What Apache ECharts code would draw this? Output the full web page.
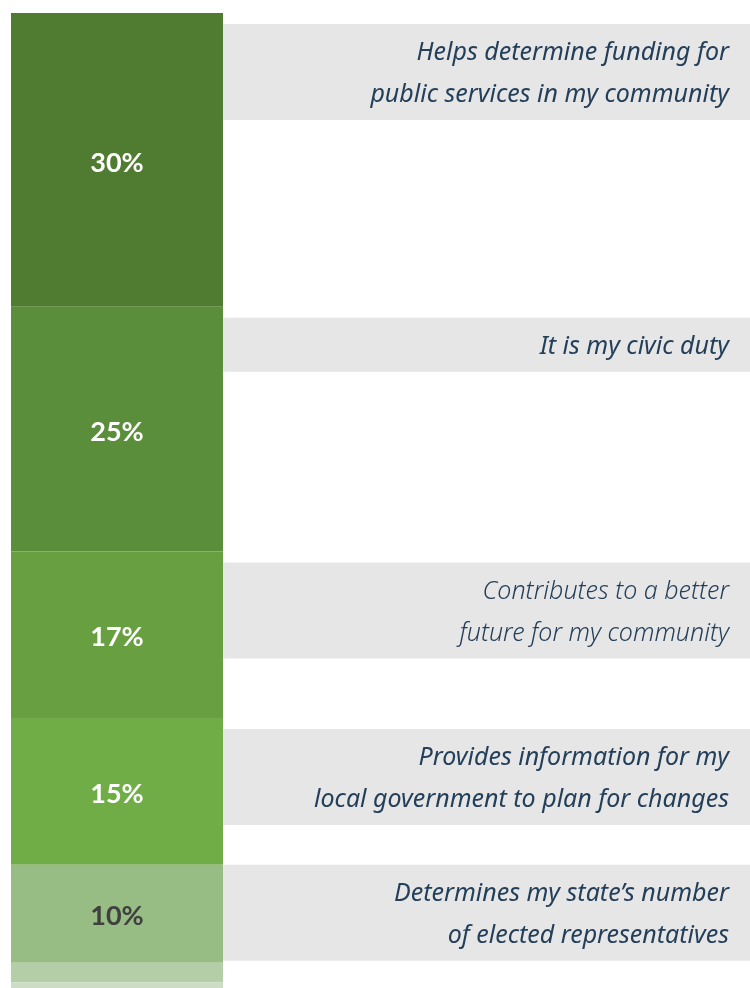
<!DOCTYPE html>
<html>
<head>
<meta charset="utf-8">
<title>Reasons</title>
<script src="https://cdn.jsdelivr.net/npm/echarts@6/dist/echarts.min.js"></script>
<style>
  html, body { margin: 0; padding: 0; background: #fff; }
  #chart { width: 750px; height: 988px; }
</style>
</head>
<body>
<div id="chart"></div>
<script>
// reasons, top to bottom (last two slivers are cut off at the bottom of the picture)
const reasons = [
  'Helps determine funding for\npublic services in my community',
  'It is my civic duty',
  'Contributes to a better\nfuture for my community',
  'Provides information for my\nlocal government to plan for changes',
  'Determines my state\u2019s number\nof elected representatives',
  '',
  ''
]
const shares = [30, 25, 17, 15, 10, 2, 1]

// looks
const segColors = ['#507C32', '#5B8E3A', '#689F41', '#70AD47', '#97BD84', '#B4CEA8', '#CCDDC5']
const pctColors = ['#FFFFFF', '#FFFFFF', '#FFFFFF', '#FFFFFF', '#404040', '#404040', '#404040']
const reasonWeights = ['normal', 'normal', '300', 'normal', 'normal', 'normal', 'normal']

const chart = echarts.init(document.getElementById('chart'))

// cumulative start / end of each segment
let acc = 0
const bandData = shares.map((v, i) => {
  const row = [0, acc, acc + v, i]
  acc += v
  return row
})

const barSeries = shares.map((v, i) => ({
  type: 'bar',
  stack: 'all',
  barWidth: '100%',
  data: [v],
  itemStyle: { color: segColors[i] },
  label: {
    show: reasons[i] !== '',
    position: 'inside',
    offset: [0, 3],
    formatter: '{c}%',
    color: pctColors[i],
    fontFamily: 'Lato',
    fontWeight: 'bold',
    fontSize: 27
  },
  emphasis: { disabled: true },
  silent: true
}))

function renderBand (params, api) {
  const i = api.value(3)
  const text = reasons[i]
  if (!text) return null
  const top = api.coord([0, api.value(1)])
  const bottom = api.coord([0, api.value(2)])
  const barW = api.size([1, 0])[0]
  const x0 = top[0] + barW / 2
  const x1 = api.getWidth()
  const lines = text.split('\n').length
  const h = lines * 42 + 12
  const segH = bottom[1] - top[1]
  const y0 = segH >= h + 24 ? top[1] + 11 : top[1]
  return {
    type: 'group',
    children: [
      {
        type: 'rect',
        shape: { x: x0, y: y0, width: x1 - x0, height: h },
        style: { fill: '#E6E6E6' }
      },
      {
        type: 'text',
        style: {
          text: text,
          x: x1 - 21,
          y: y0 + h / 2 + 2,
          align: 'right',
          verticalAlign: 'middle',
          fontFamily: 'Noto Sans',
          fontStyle: 'italic',
          fontWeight: reasonWeights[i],
          fontSize: 25,
          lineHeight: 42,
          fill: '#243F5A'
        }
      }
    ]
  }
}

chart.setOption({
  animation: false,
  grid: { left: 11, top: 13, width: 212, height: 979, outerBoundsMode: 'none' },
  xAxis: { type: 'category', data: ['share'], show: false },
  yAxis: { type: 'value', min: 0, max: 100, inverse: true, show: false },
  series: barSeries.concat([{
    type: 'custom',
    renderItem: renderBand,
    clip: false,
    silent: true,
    encode: { x: 0, y: [1, 2] },
    data: bandData,
    z: 3
  }])
})
</script>
</body>
</html>
